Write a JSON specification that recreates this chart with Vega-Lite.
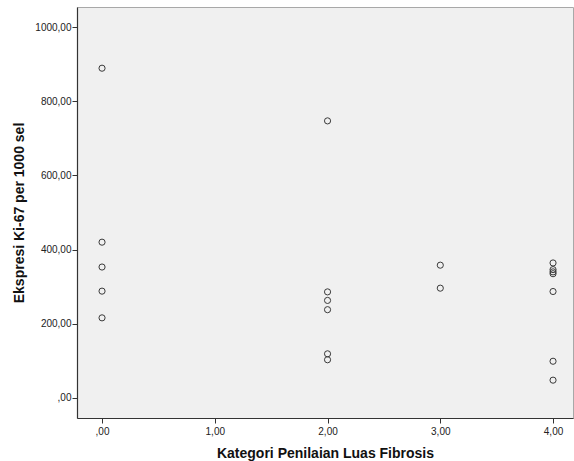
{
  "$schema": "https://vega.github.io/schema/vega-lite/v6.json",
  "width": 496,
  "height": 411,
  "autosize": {"type": "none"},
  "padding": {"left": 77, "top": 7, "right": 1, "bottom": 43},
  "background": "white",
  "data": {
    "values": [
      {"fibrosis": 0, "ki67": 889},
      {"fibrosis": 0, "ki67": 420},
      {"fibrosis": 0, "ki67": 353},
      {"fibrosis": 0, "ki67": 288},
      {"fibrosis": 0, "ki67": 216},
      {"fibrosis": 2, "ki67": 747},
      {"fibrosis": 2, "ki67": 286},
      {"fibrosis": 2, "ki67": 263},
      {"fibrosis": 2, "ki67": 238},
      {"fibrosis": 2, "ki67": 119},
      {"fibrosis": 2, "ki67": 103},
      {"fibrosis": 3, "ki67": 358},
      {"fibrosis": 3, "ki67": 296},
      {"fibrosis": 4, "ki67": 364},
      {"fibrosis": 4, "ki67": 346},
      {"fibrosis": 4, "ki67": 340},
      {"fibrosis": 4, "ki67": 335},
      {"fibrosis": 4, "ki67": 287},
      {"fibrosis": 4, "ki67": 99},
      {"fibrosis": 4, "ki67": 48}
    ]
  },
  "mark": {"type": "point", "shape": "circle", "filled": false, "size": 38, "stroke": "#3a3a3a", "strokeWidth": 1, "opacity": 1},
  "encoding": {
    "x": {
      "field": "fibrosis",
      "type": "quantitative",
      "scale": {"domain": [-0.222, 4.177], "nice": false, "zero": false},
      "axis": {
        "title": "Kategori Penilaian Luas Fibrosis",
        "values": [0, 1, 2, 3, 4],
        "labelExpr": "datum.value == 0 ? ',00' : replace(format(datum.value, '.2f'), '.', ',')",
        "grid": false,
        "tickSize": 5,
        "labelPadding": 3,
        "titlePadding": 10
      }
    },
    "y": {
      "field": "ki67",
      "type": "quantitative",
      "scale": {"domain": [-54, 1054], "nice": false, "zero": false},
      "axis": {
        "title": "Ekspresi Ki-67 per 1000 sel",
        "values": [0, 200, 400, 600, 800, 1000],
        "labelExpr": "datum.value == 0 ? ',00' : replace(format(datum.value, '.2f'), '.', ',')",
        "grid": false,
        "tickSize": 5,
        "labelPadding": 1,
        "titlePadding": 8
      }
    }
  },
  "config": {
    "view": {"fill": "#f0f0f0", "stroke": "#a8a8a8", "strokeWidth": 1},
    "axis": {
      "domainColor": "#333333",
      "domainWidth": 1.2,
      "tickColor": "#333333",
      "tickWidth": 1,
      "labelFont": "Arial, Liberation Sans",
      "labelFontSize": 10,
      "labelColor": "#222222",
      "titleFont": "Arial, Liberation Sans",
      "titleFontSize": 14,
      "titleFontWeight": "bold",
      "titleColor": "#111111"
    }
  }
}
